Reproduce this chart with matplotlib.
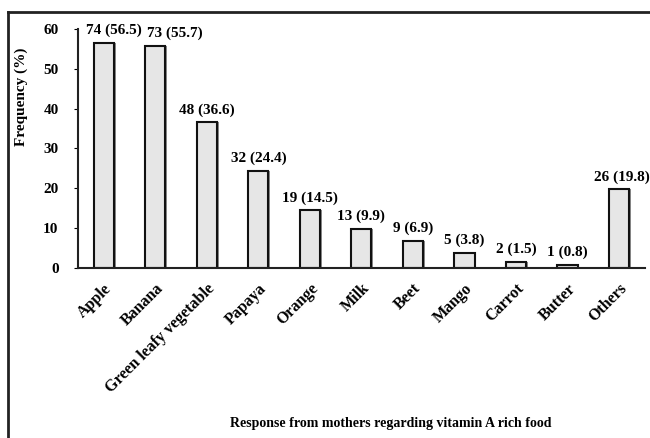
import matplotlib
matplotlib.use("Agg")
import matplotlib.pyplot as plt
from matplotlib.lines import Line2D

categories = ["Apple", "Banana", "Green leafy vegetable", "Papaya", "Orange", "Milk",
              "Beet", "Mango", "Carrot", "Butter", "Others"]
counts = [74, 73, 48, 32, 19, 13, 9, 5, 2, 1, 26]
percents = [56.5, 55.7, 36.6, 24.4, 14.5, 9.9, 6.9, 3.8, 1.5, 0.8, 19.8]
yticks = [0, 10, 20, 30, 40, 50, 60]
# horizontal nudges of the value labels (style only)
label_dx = [0.19, 0.38, 0, 0, 0, 0, 0, 0, 0, 0, 0.05]

plt.rcParams['font.family'] = ['Liberation Serif', 'DejaVu Serif']
plt.rcParams['font.weight'] = 'bold'

fig = plt.figure(figsize=(6.5, 4.38), dpi=100)
ax = fig.add_axes([0.12, 0.388, 0.872, 0.546])
ax.set_clip_on(False)

x = list(range(len(categories)))
w = 0.39
# shadow
ax.bar([i + 0.035 for i in x], percents, width=w, color='#8a8a8a', edgecolor='none', zorder=1)
ax.bar(x, percents, width=w, color='#e6e6e6', edgecolor='#111111', linewidth=1.5, zorder=2)

for i, (c, p) in enumerate(zip(counts, percents)):
    ax.text(i + label_dx[i], p + 1.4, f"{c} ({p})", ha='center', va='bottom', fontsize=11,
            fontweight='bold', clip_on=False)

ax.set_xlim(-0.5, 10.5)
ax.set_ylim(0, 60)
ax.set_yticks(yticks)
ax.set_yticklabels([str(t) for t in yticks], fontsize=11, fontweight='bold')
ax.set_xticks(x)
ax.set_xticklabels(categories, rotation=45, ha='right', rotation_mode='anchor',
                   fontsize=11.5, fontweight='bold')
ax.tick_params(axis='x', length=0, pad=9)
ax.tick_params(axis='y', length=3, width=0.8, pad=11)
for s in ['top', 'right']:
    ax.spines[s].set_visible(False)
ax.spines['left'].set_linewidth(1.5)
ax.spines['bottom'].set_linewidth(1.5)
ax.spines['left'].set_color('#222222')
ax.spines['bottom'].set_color('#222222')

ax.set_ylabel("Frequency (%)", fontsize=11, fontweight='bold')
ax.yaxis.set_label_coords(-50 / 567, (268 - 97) / 239)

fig.text(391 / 650, 1 - 424 / 438, "Response from mothers regarding vitamin A rich food",
         ha='center', va='center', fontsize=10, fontweight='bold')

# outer frame (cut at right and bottom)
fig.add_artist(Line2D([8 / 650, 1.0], [1 - 12 / 438, 1 - 12 / 438], color='#222222',
                      linewidth=2, transform=fig.transFigure))
fig.add_artist(Line2D([8 / 650, 8 / 650], [1 - 12 / 438, 0.0], color='#222222',
                      linewidth=2, transform=fig.transFigure))

fig.savefig("out.png", dpi=100)
